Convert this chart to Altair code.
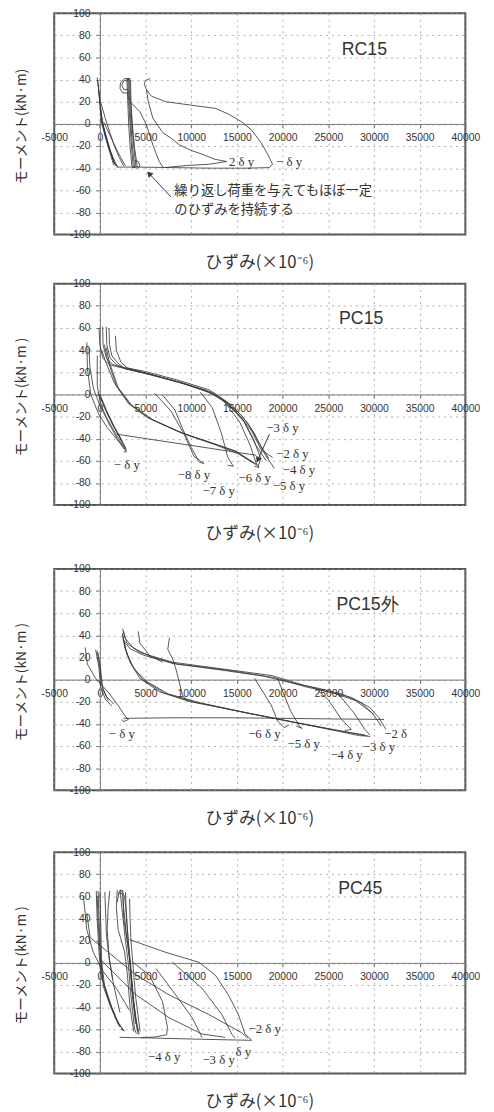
import altair as alt
import pandas as pd

# ---------------- axes ----------------
X_DOMAIN = [-5000, 40000]
Y_DOMAIN = [-100, 100]
X_TICKS = [-5000, 0, 5000, 10000, 15000, 20000, 25000, 30000, 35000, 40000]
Y_TICKS = [-100, -80, -60, -40, -20, 0, 20, 40, 60, 80, 100]
X_TITLE = "ひずみ(×10⁻⁶)"

W, H = 418, 225

# ---------------- RC15 ----------------
RC15_CURVES = [
    [(-300, 42), (-100, 26), (250, 2), (1150, -25), (1860, -38)],
    [(-200, 38), (0, 20), (300, 0), (900, -20), (1500, -34), (1800, -38)],
    [(-100, 30), (100, 10), (500, -8), (1000, -22), (1600, -36), (2000, -39)],
    [(0, 15), (300, 0), (800, -15), (1300, -28), (1700, -38)],
    [(50, 5), (600, -12), (1100, -26), (1500, -37)],
    [(70, 20), (700, 2), (1500, -18), (2100, -30), (2600, -38)],
    [(400, 2), (1200, -12), (2000, -26), (2800, -38)],
    [(2950, 41), (3050, 20), (3150, 0), (3300, -20), (3500, -38), (3650, -40)],
    [(3050, 41), (3150, 20), (3300, 0), (3450, -20), (3650, -39)],
    [(3150, 41), (3250, 20), (3400, 0), (3550, -20), (3800, -39)],
    [(3250, 41), (3350, 20), (3500, 0), (3700, -20), (3950, -39)],
    [(3350, 40), (3400, 20), (3550, 0), (3800, -22), (4100, -39)],
    [(3600, -39), (4100, -40), (4400, -38), (4200, -34), (3800, -33)],
    [(3300, 41), (2700, 41), (2250, 37), (2200, 32), (2500, 28), (3100, 28), (3300, 30)],
    [(3200, 40), (2600, 39), (2400, 35), (2600, 31), (3100, 31)],
    [(3300, 20), (4380, 11), (5100, -1), (5800, -19), (6500, -34), (6900, -39)],
    [(5500, 41), (5000, 39), (4850, 36), (5100, 31), (5650, 25), (7250, 20), (9050, 18),
     (10850, 16), (12650, 14), (14050, 9), (15500, 2), (16600, -5.5), (17650, -17),
     (18400, -28), (18900, -36.5), (18550, -39.5), (16000, -40), (12000, -40),
     (8000, -39.5), (4000, -39), (1800, -39)],
    [(5100, 31), (5300, 20), (5800, 5), (6900, -8), (7800, -13), (8700, -19), (10000, -24),
     (11400, -28), (12600, -32), (13900, -34), (11900, -36.5), (9600, -37.5), (7000, -39.5)],
]
RC15_LABELS = ["2 δ y", "− δ y"]
RC15_LABEL_X = [15500, 20700]
RC15_LABEL_Y = [-34.5, -34.5]
RC15_NOTE = ["繰り返し荷重を与えてもほぼ一定", "のひずみを持続する"]
RC15_NOTE_X = [8150, 8150]
RC15_NOTE_Y = [-60.5, -78]
RC15_ARROW_X = [7780, 5460]
RC15_ARROW_Y = [-66, -45.5]

# ---------------- PC15 ----------------
PC15_CURVES = [
    [(-1430, 47), (-1360, 23), (-1000, 0), (-130, -18), (800, -30), (1800, -40), (2600, -48), (2900, -51)],
    [(-1200, 42), (-1100, 25), (-700, 5), (0, -10), (900, -25), (1900, -40), (2700, -50)],
    [(-290, 35), (-290, 8), (70, -9), (800, -22), (1700, -35), (2500, -46), (2900, -49)],
    [(-200, 2), (500, -12), (1300, -26), (2100, -38), (2700, -47), (2900, -52), (2600, -52)],
    [(0, 0), (700, -14), (1500, -28), (2300, -40), (2800, -48)],
    [(100, -3), (800, -17), (1600, -30), (2400, -42)],
    [(-100, 60), (0, 45), (300, 33), (1000, 27), (1900, 25), (4400, 20), (8000, 12.5), (11500, 4),
     (13350, -5), (15150, -18), (16600, -33), (17650, -50), (18900, -57)],
    [(300, 61), (350, 45), (700, 33), (1400, 27), (2200, 25), (4800, 21), (8500, 13), (12000, 4),
     (13800, -6), (15500, -19), (16900, -35), (17900, -52), (19100, -67)],
    [(700, 61), (750, 45), (1100, 33), (1800, 27), (2600, 24), (5200, 19), (8800, 11), (12200, 2),
     (14000, -8), (15600, -22), (16800, -40), (17600, -58), (17300, -66)],
    [(1000, 60), (1050, 45), (1300, 35), (2000, 28), (2800, 23), (5500, 18), (9000, 10), (12300, 1),
     (14200, -10), (15800, -25), (17000, -45), (18200, -60)],
    [(1700, 53), (1800, 40), (2300, 29), (3000, 24), (6000, 17), (9500, 9), (12500, 0),
     (14500, -10), (16200, -26), (17500, -45), (18500, -58)],
    [(500, 45), (800, 32), (1800, 8), (3300, -9), (5500, -22), (9000, -35), (12600, -45), (15000, -52), (17100, -63)],
    [(700, 42), (1000, 30), (2000, 6), (3500, -10), (5800, -23), (9300, -36), (12800, -46), (15200, -54), (17200, -64)],
    [(200, 40), (600, 30), (1600, 10), (3100, -8), (5200, -21), (8700, -34), (12300, -44), (14800, -51), (16800, -62)],
    [(1850, -36), (17100, -55)],
    [(6000, 1), (7780, -15), (9220, -36), (10300, -56), (11380, -62.5), (10800, -61)],
    [(6900, -1), (8200, -14), (9000, -30), (10000, -48), (10800, -60)],
    [(11000, 2), (12300, -12), (13300, -35), (14000, -57), (14600, -65), (14000, -64)],
    [(13500, -5), (15300, -25), (16400, -45), (17100, -62), (17400, -66), (16900, -65)],
]
PC15_LABELS = ["− δ y", "−8 δ y", "−7 δ y", "−6 δ y", "−5 δ y", "−4 δ y", "−2 δ y", "−3 δ y"]
PC15_LABEL_X = [2940, 10300, 13000, 16940, 20700, 21780, 21070, 19990]
PC15_LABEL_Y = [-64, -72.8, -87.6, -75.8, -83.2, -68.4, -53.7, -30]
PC15_ARROW_X = [18550, 17330]
PC15_ARROW_Y = [-36, -58.4]

# ---------------- PC15外 ----------------
PC15S_CURVES = [
    [(-1610, 29), (-1370, 14), (-460, 1), (970, -12), (2050, -24), (2760, -33), (3120, -36), (2600, -38), (2400, -36)],
    [(-460, 27), (-110, 11), (70, -6), (610, -18), (1320, -24)],
    [(-300, 26), (0, 10), (200, -5), (700, -15), (1500, -22)],
    [(-200, 24), (100, 8), (300, -8), (900, -19)],
    [(2600, -35), (8000, -34.5), (14240, -34.5), (20000, -35), (25000, -35.5), (31100, -36)],
    [(2580, 44), (2940, 33), (4380, 24.5), (7970, 15.7), (13350, 9.7), (18730, 3.8), (22310, -5),
     (25000, -11), (27500, -16), (29500, -25), (30500, -34), (31300, -45)],
    [(2500, 46), (2700, 38), (3600, 29), (5500, 21), (8500, 14), (14000, 8.5), (19000, 2),
     (22500, -6.5), (25500, -12), (28000, -19), (29800, -30), (30800, -42)],
    [(2450, 42), (2600, 35), (3300, 28), (4800, 22), (8000, 14.5), (13000, 9), (18000, 3),
     (21000, -3), (24000, -8), (26500, -13), (28600, -21), (30000, -32)],
    [(2500, 40), (2700, 30), (3300, 15.7), (4380, 1), (6530, -11), (9760, -19.7), (15150, -28.6),
     (20530, -37.4), (25900, -46.3), (28420, -50.7), (29300, -51)],
    [(2550, 38), (2800, 27), (3500, 13), (4700, 0), (7000, -12), (10200, -20), (15500, -29),
     (21000, -38), (26300, -46.5), (29000, -50)],
    [(2600, 36), (3000, 22), (3800, 9), (5200, -2), (7500, -13), (11000, -21), (16000, -30),
     (21500, -39), (26800, -47), (29600, -51.5)],
    [(4200, 43.6), (4380, 33), (5460, 21.5), (6890, 15.7)],
    [(7610, 37.8), (7430, 27.4), (7970, 18.6), (8320, 9.7), (9040, -13.9), (9600, -20)],
    [(16930, 1), (18730, -22.7), (19450, -37.4), (20160, -43.4), (20700, -41)],
    [(19450, 1), (20880, -28.6), (21960, -43.4), (22140, -44), (21500, -42)],
    [(23500, -7), (25000, -18.3), (26450, -36), (27520, -45), (26800, -46)],
    [(26000, -12), (27800, -30), (29000, -45), (29550, -50)],
]
PC15S_LABELS = ["− δ y", "−6 δ y", "−5 δ y", "−4 δ y", "−3 δ y", "−2 δ"]
PC15S_LABEL_X = [2400, 18000, 22300, 27000, 30550, 32370]
PC15S_LABEL_Y = [-49.3, -49.3, -58, -68.4, -61, -49.3]

# ---------------- PC45 ----------------
PC45_CURVES = [
    [(-1800, 60), (-1440, 30), (-720, 9.5), (360, -8), (1800, -23), (3250, -43)],
    [(-400, 65), (-300, 40), (-100, 10), (100, -10), (800, -30), (1700, -50), (2600, -61), (2300, -60)],
    [(-200, 65), (-100, 40), (50, 10), (300, -15), (1000, -35), (2000, -55), (2700, -62)],
    [(0, 64), (100, 30), (200, 0), (500, -20), (1300, -40), (2200, -58)],
    [(-300, 60), (-150, 30), (100, 0), (400, -22), (1200, -40), (2100, -57)],
    [(540, 64), (720, 24), (1080, 1), (1500, -20), (2200, -45)],
    [(1080, 65), (900, 50), (800, 30), (1000, 5), (1400, -15)],
    [(1900, 66), (1800, 50), (2000, 30), (2700, 10), (3000, -10), (3300, -40), (3700, -62)],
    [(2200, 66), (2400, 50), (2800, 20), (3100, 0), (3400, -30), (3800, -60), (4000, -64)],
    [(2500, 66), (2600, 40), (3000, 20), (3300, 0), (3600, -30), (4100, -62)],
    [(2800, 64), (2900, 40), (3200, 10), (3500, -20), (3900, -50), (4300, -64)],
    [(3250, 58), (3300, 40), (3400, 20), (3600, 0), (3900, -30), (4400, -62)],
    [(2000, 62), (2300, 66), (2700, 60), (2900, 45), (3100, 20), (3400, -5), (3700, -35), (4200, -65)],
    [(1900, 55), (2100, 64), (2500, 62), (2600, 50), (2900, 25), (3300, 0), (3500, -25), (3900, -55)],
    [(3250, 21), (7220, 9.5), (10820, 0.6), (12630, -11), (14070, -29), (15150, -46.6), (15880, -64), (16600, -70)],
    [(-1440, 45), (-1080, 23), (3970, -11), (7580, -29), (11900, -46.6), (15500, -63), (16200, -68)],
    [(0, 3.5), (3970, -29), (7580, -49.6), (11180, -64.3), (13700, -67.3)],
    [(3600, 0.6), (5410, -11), (6850, -35), (7390, -58), (7300, -65), (6000, -67), (4500, -67.5)],
    [(6130, -5), (8300, -29), (10100, -49.6), (11180, -67.3)],
    [(7940, 0.6), (11180, -23), (13340, -46.6), (14430, -64.3), (14800, -68)],
    [(2160, -67.3), (6000, -68), (11000, -69), (16600, -70)],
]
PC45_LABELS = ["−2 δ y", "−4 δ y", "−3 δ y", "δ y"]
PC45_LABEL_X = [18040, 7030, 12990, 15690]
PC45_LABEL_Y = [-59.9, -85, -87.9, -81]

PANEL_NAMES = ["RC15", "PC15", "PC15外", "PC45"]
PANEL_NAME_X = [28950, 28600, 29300, 28500]
PANEL_NAME_Y = [67, 68, 67, 67]
Y_TITLES = ["モーメント(kN·m)", "モーメント(kN·m )", "モーメント(kN·m )", "モーメント(kN·m )"]

INK = "#3a3a3a"
X0_OFFSET = -W * (0 - X_DOMAIN[0]) / (X_DOMAIN[1] - X_DOMAIN[0])


def curves_df(curves):
    rows = []
    for cid, pts in enumerate(curves):
        for i, (x, y) in enumerate(pts):
            rows.append({"cid": cid, "i": i, "x": x, "y": y})
    return pd.DataFrame(rows)


X_ENC = alt.X(
    "x:Q",
    scale=alt.Scale(domain=X_DOMAIN, nice=False, zero=False),
    axis=alt.Axis(
        values=X_TICKS, offset=-H / 2, title=None, labelExpr="'' + datum.value",
        labelFlush=False, labelOverlap=False, grid=True, gridDash=[2, 4],
        gridColor="#9a9a9a", gridOpacity=0.8, domainColor="#777", tickColor="#777",
        tickSize=4, labelFont="Liberation Sans", labelFontSize=10.5, labelColor="#333",
        labelPadding=5,
    ),
)
Y_ENC = alt.Y(
    "y:Q",
    scale=alt.Scale(domain=Y_DOMAIN, nice=False, zero=False),
    axis=alt.Axis(
        values=Y_TICKS, offset=X0_OFFSET, title=None, labelExpr="'' + datum.value",
        labelFlush=False, labelOverlap=False, grid=True, gridDash=[2, 4],
        gridColor="#9a9a9a", gridOpacity=0.8, domainColor="#777", tickColor="#777",
        tickSize=4, labelFont="Liberation Sans", labelFontSize=10.5, labelColor="#333",
        labelPadding=6,
    ),
)


def text_layer(texts, xs, ys, **kw):
    df = pd.DataFrame({"t": texts, "x": xs, "y": ys})
    return alt.Chart(df).mark_text(**kw).encode(x=X_ENC, y=Y_ENC, text="t:N")


def arrow_layers(xs, ys, angle):
    df = pd.DataFrame({"x": xs, "y": ys, "i": list(range(len(xs)))})
    line = alt.Chart(df).mark_line(color=INK, strokeWidth=1).encode(x=X_ENC, y=Y_ENC, order="i:Q")
    head = alt.Chart(df.tail(1)).mark_point(
        shape="triangle", filled=True, color=INK, size=45, angle=angle, opacity=1
    ).encode(x=X_ENC, y=Y_ENC)
    return [line, head]


def panel(k, curves, lab, labx, laby, extra):
    lines = alt.Chart(curves_df(curves)).mark_line(
        color=INK, strokeWidth=0.85, clip=True
    ).encode(x=X_ENC, y=Y_ENC, detail="cid:N", order="i:Q")
    labels = text_layer(lab, labx, laby, font="Liberation Serif", fontSize=13, color="#333")
    name = text_layer([PANEL_NAMES[k]], [PANEL_NAME_X[k]], [PANEL_NAME_Y[k]],
                      font="Liberation Sans", fontSize=18, color="#333")
    ytitle = alt.Chart(pd.DataFrame({"t": [Y_TITLES[k]]})).mark_text(
        angle=270, font="Noto Sans CJK JP", fontSize=14, color="#333"
    ).encode(text="t:N", x=alt.value(-33), y=alt.value(115))
    return alt.layer(lines, labels, name, ytitle, *extra).properties(
        width=W, height=H,
        title=alt.TitleParams(
            text=X_TITLE, orient="bottom", offset=16, fontSize=17,
            font="Noto Sans CJK JP", fontWeight="normal", color="#333",
        ),
    )


p1 = panel(0, RC15_CURVES, RC15_LABELS, RC15_LABEL_X, RC15_LABEL_Y, [
    text_layer(RC15_NOTE, RC15_NOTE_X, RC15_NOTE_Y, font="Noto Sans CJK JP",
               fontSize=13.5, color="#333", align="left"),
    *arrow_layers(RC15_ARROW_X, RC15_ARROW_Y, 317),
])
p2 = panel(1, PC15_CURVES, PC15_LABELS, PC15_LABEL_X, PC15_LABEL_Y,
           arrow_layers(PC15_ARROW_X, PC15_ARROW_Y, 204))
p3 = panel(2, PC15S_CURVES, PC15S_LABELS, PC15S_LABEL_X, PC15S_LABEL_Y, [])
p4 = panel(3, PC45_CURVES, PC45_LABELS, PC45_LABEL_X, PC45_LABEL_Y, [])

top_pair = alt.vconcat(p1, p2, spacing=5)
bottom_pair = alt.vconcat(p3, p4, spacing=18)

chart = alt.vconcat(top_pair, bottom_pair, spacing=20).configure_view(
    stroke="#555", strokeWidth=2
).properties(padding={"left": 6, "top": -10, "right": 5, "bottom": 5})

chart.save("out.html", embed_options={"renderer": "svg", "actions": False})
